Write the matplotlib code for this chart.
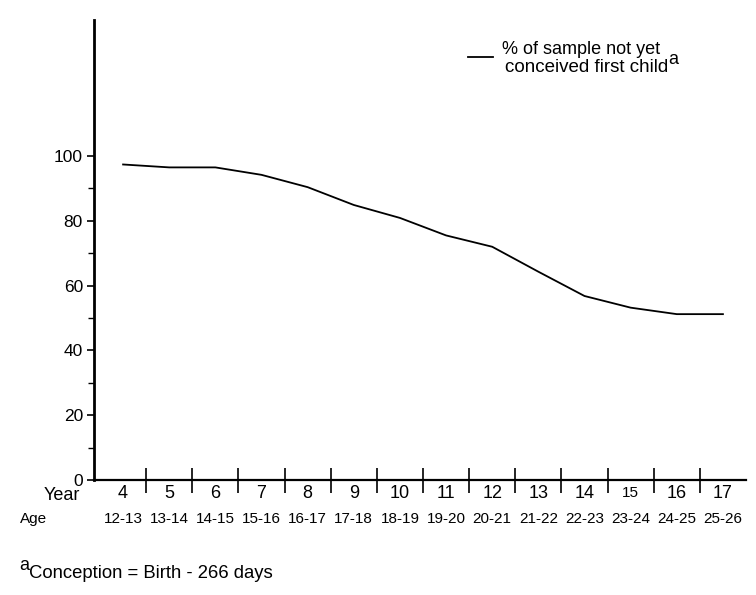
import matplotlib
matplotlib.use("Agg")
import matplotlib.pyplot as plt
from matplotlib.lines import Line2D

plt.rcParams['font.family'] = ['Liberation Sans', 'DejaVu Sans']

years = [4, 5, 6, 7, 8, 9, 10, 11, 12, 13, 14, 15, 16, 17]
ages = ["12-13", "13-14", "14-15", "15-16", "16-17", "17-18", "18-19",
        "19-20", "20-21", "21-22", "22-23", "23-24", "24-25", "25-26"]
pct_not_conceived = [97.4, 96.5, 96.5, 94.2, 90.4, 84.9, 80.9, 75.5,
                     72.0, 64.3, 56.8, 53.2, 51.2, 51.2]
y_major = [0, 20, 40, 60, 80, 100]
y_minor = [10, 30, 50, 70, 90]

fig = plt.figure(figsize=(7.56, 5.95), dpi=100)
ax = fig.add_axes([94/756, 1 - 480/595, (746 - 94)/756, (480 - 20)/595])

ax.plot(years, pct_not_conceived, color='black', lw=1.3, solid_joinstyle='miter')

ax.set_xlim(years[0] - 0.5 - 6/46, years[-1] + 0.5)
ax.set_ylim(0, 142)

for s in ['top', 'right']:
    ax.spines[s].set_visible(False)
ax.spines['left'].set_linewidth(2.0)
ax.spines['bottom'].set_linewidth(1.6)

ax.set_yticks(y_major)
ax.set_yticks(y_minor, minor=True)
ax.tick_params(axis='y', which='major', direction='out', length=5, width=1.2,
               labelsize=12.5, pad=3)
ax.tick_params(axis='y', which='minor', direction='out', length=4, width=1.0)

bounds = [y + 0.5 for y in years[:-1]]
ax.set_xticks(bounds)
ax.set_xticklabels([])
ax.tick_params(axis='x', which='major', direction='inout', length=18, width=1.2)

trans = ax.get_xaxis_transform()
for yr, ag in zip(years, ages):
    ax.text(yr, -0.029, str(yr), transform=trans, ha='center', va='center',
            fontsize=11 if yr == 15 else 13)
    ax.text(yr, -0.085, ag, transform=trans, ha='center', va='center',
            fontsize=11)

fig.text(80/756, 1 - 496/595, "Year", ha='right', va='center', fontsize=13)
fig.text(20/756, 1 - 519/595, "Age", ha='left', va='center', fontsize=11)

# legend
fig.add_artist(Line2D([468/756, 493/756], [1 - 57/595, 1 - 57/595],
                      color='black', lw=1.3))
fig.text(502/756, 1 - 50/595, "% of sample not yet", ha='left', va='center',
         fontsize=13)
t2 = fig.text(505/756, 1 - 68/595, "conceived first child", ha='left',
              va='center', fontsize=13.5)
ax.annotate("a", xy=(1.0, 0.5), xycoords=t2, ha='left', va='bottom',
            fontsize=13, annotation_clip=False)

# footnote
fn = fig.text(29/756, 1 - 574/595, "Conception = Birth - 266 days", ha='left',
              va='center', fontsize=13.3)
ax.annotate("a", xy=(0.0, 0.5), xycoords=fn, ha='right', va='bottom',
            fontsize=13, annotation_clip=False)

fig.savefig("out.png", dpi=100)
